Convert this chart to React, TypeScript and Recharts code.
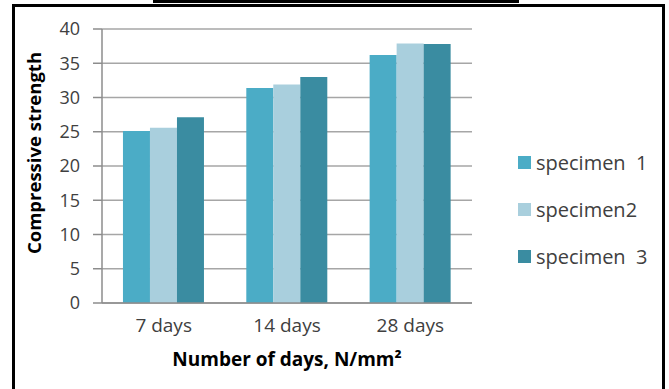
import React from 'react';
import { BarChart, Bar, XAxis, YAxis, CartesianGrid, Label } from 'recharts';

const categories = ['7 days', '14 days', '28 days'];
const specimen1 = [25.1, 31.4, 36.2];
const specimen2 = [25.6, 31.9, 37.9];
const specimen3 = [27.1, 33.0, 37.8];
const seriesNames = ['specimen  1', 'specimen2', 'specimen  3'];
const seriesColors = ['#4BACC6', '#A9CFDD', '#3A8CA1'];
const yTicks = [0, 5, 10, 15, 20, 25, 30, 35, 40];

const data = categories.map((c, i) => ({
  day: c,
  s1: specimen1[i],
  s2: specimen2[i],
  s3: specimen3[i],
}));
const seriesKeys = ['s1', 's2', 's3'];

const FONT = '"Open Sans", Calibri, sans-serif';
const TEXT = '#404040';

export default function App() {
  return (
    <div style={{ position: 'absolute', left: 0, top: 0, width: 669, height: 389, background: '#fff', overflow: 'hidden', fontFamily: FONT }}>
      {/* frame */}
      <div style={{ position: 'absolute', left: 153, top: 0, width: 366, height: 3, background: '#000' }} />
      <div style={{ position: 'absolute', left: 12, top: 4, width: 653, height: 400, border: '3px solid #000', boxSizing: 'border-box' }} />
      <BarChart
        width={669}
        height={389}
        data={data}
        margin={{ top: 29, right: 197, bottom: 56, left: 42 }}
        barCategoryGap="17%"
        barGap={0}
        style={{ position: 'absolute', left: 0, top: 0 }}
      >
        <CartesianGrid vertical={false} stroke="#A6A6A6" strokeWidth={1.5} />
        <XAxis
          dataKey="day"
          height={30}
          axisLine={{ stroke: '#8C8C8C', strokeWidth: 1.5 }}
          tickLine={false}
          tickSize={0}
          tickMargin={16}
          tick={{ fill: TEXT, fontSize: 19, fontFamily: FONT }}
        >
          <Label
            content={() => (
              <text x={287} y={366} textAnchor="middle" fontFamily={FONT} fontSize={19} fontWeight="bold" fill="#000">
                Number of days, N/mm²
              </text>
            )}
          />
        </XAxis>
        <YAxis
          width={60}
          domain={[0, 40]}
          ticks={yTicks}
          interval={0}
          axisLine={{ stroke: '#8C8C8C', strokeWidth: 1.5 }}
          tickLine={{ stroke: '#8C8C8C', strokeWidth: 1.5 }}
          tickSize={9}
          tickMargin={13}
          tick={{ fill: TEXT, fontSize: 18, fontFamily: FONT }}
        >
          <Label
            content={() => (
              <text x={41} y={153} transform="rotate(-90 41 153)" textAnchor="middle" fontFamily={FONT} fontSize={18.5} fontWeight="bold" fill="#000">
                Compressive strength
              </text>
            )}
          />
        </YAxis>
        {seriesKeys.map((k, i) => (
          <Bar key={k} dataKey={k} name={seriesNames[i]} fill={seriesColors[i]} isAnimationActive={false} />
        ))}
      </BarChart>
      {/* legend */}
      {seriesNames.map((n, i) => (
        <div key={n} style={{ position: 'absolute', left: 518, top: 150 + i * 47, height: 24, display: 'flex', alignItems: 'center' }}>
          <div style={{ width: 13, height: 13, background: seriesColors[i], marginRight: 5 }} />
          <span style={{ whiteSpace: 'pre', fontSize: 20, color: TEXT }}>{n}</span>
        </div>
      ))}
    </div>
  );
}
